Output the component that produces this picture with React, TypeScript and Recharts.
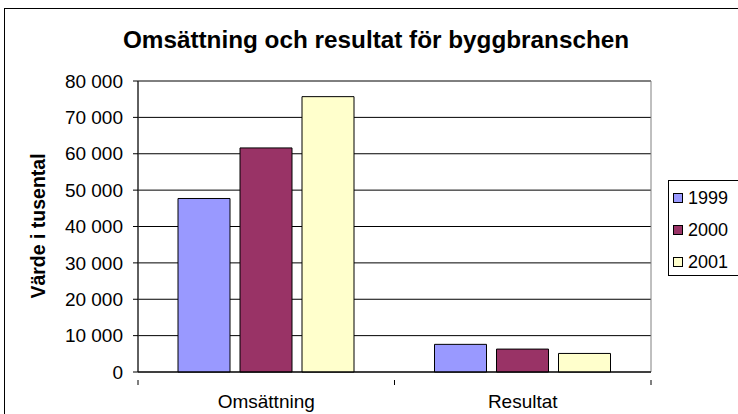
import { Bar, BarChart, CartesianGrid, ReferenceArea, XAxis, YAxis } from "recharts";

const categories = ["Omsättning", "Resultat"];
const years = ["1999", "2000", "2001"];
const values1999 = [47700, 7600];
const values2000 = [61600, 6300];
const values2001 = [75700, 5100];
const yTicks = [0, 10000, 20000, 30000, 40000, 50000, 60000, 70000, 80000];

const COLORS = ["#9999FF", "#993366", "#FFFFCC"];
const FONT = "Liberation Sans, Arial, sans-serif";

const W = 738;
const H = 414;
const MARGIN = { top: 81, right: 87, bottom: 0, left: 0 };
const Y_AXIS_W = 138;
const X_AXIS_H = 42;
const HALF_BAND = (W - MARGIN.right - Y_AXIS_W) / categories.length / 2;

const data = categories.map((name, i) => ({
  name,
  "1999": values1999[i],
  "2000": values2000[i],
  "2001": values2001[i],
}));

const formatThousands = (v: number) => v.toString().replace(/\B(?=(\d{3})+(?!\d))/g, " ");

function CategoryTick(props: any) {
  const { x, y, payload, index } = props;
  const last = index === categories.length - 1;
  return (
    <g>
      <line x1={x - HALF_BAND} x2={x - HALF_BAND} y1={y} y2={y + 5} stroke="#000" />
      {last && <line x1={x + HALF_BAND} x2={x + HALF_BAND} y1={y} y2={y + 5} stroke="#000" />}
      <text x={x} y={y + 28} textAnchor="middle" fontSize={19} fontFamily={FONT} fill="#000">
        {payload.value}
      </text>
    </g>
  );
}

function LegendBox() {
  return (
    <div
      style={{
        position: "absolute",
        left: 668,
        top: 180,
        width: 90,
        height: 96,
        boxSizing: "border-box",
        border: "1px solid #000",
        background: "#fff",
        padding: "1px 0 0 4px",
        fontFamily: FONT,
        fontSize: 18,
      }}
    >
      {years.map((year, i) => (
        <div key={year} style={{ display: "flex", alignItems: "center", height: 32 }}>
          <span
            style={{
              display: "inline-block",
              width: 8,
              height: 8,
              border: "1px solid #000",
              background: COLORS[i],
              marginRight: 5,
            }}
          />
          {year}
        </div>
      ))}
    </div>
  );
}

export default function App() {
  return (
    <div style={{ position: "absolute", left: 0, top: 0, width: W, height: H, overflow: "hidden", background: "#fff" }}>
      <div
        style={{
          position: "absolute",
          left: 4,
          top: 8,
          width: W + 20,
          height: H + 20,
          border: "1px solid #000",
          boxSizing: "border-box",
        }}
      />
      <div
        style={{
          position: "absolute",
          left: 0,
          top: 26,
          width: 752,
          textAlign: "center",
          fontFamily: FONT,
          fontWeight: "bold",
          fontSize: 24.3,
        }}
      >
        Omsättning och resultat för byggbranschen
      </div>
      <div style={{ position: "absolute", left: 0, top: 0 }}>
        <BarChart width={W} height={H} data={data} margin={MARGIN} barCategoryGap={40} barGap={10}>
          <CartesianGrid vertical={false} stroke="#000" strokeWidth={1} />
          <ReferenceArea y1={0} y2={80000} fill="none" stroke="#808080" strokeWidth={1} ifOverflow="visible" />
          <XAxis
            dataKey="name"
            height={X_AXIS_H}
            axisLine={{ stroke: "#000" }}
            tickLine={false}
            tick={<CategoryTick />}
            interval={0}
          />
          <YAxis
            width={Y_AXIS_W}
            domain={[0, 80000]}
            ticks={yTicks}
            interval={0}
            tickFormatter={formatThousands}
            axisLine={{ stroke: "#000" }}
            tickLine={{ stroke: "#000" }}
            tickSize={5}
            tickMargin={10}
            tick={{ fontSize: 19, fontFamily: FONT, fill: "#000" }}
          />
          {years.map((year, i) => (
            <Bar key={year} dataKey={year} fill={COLORS[i]} stroke="#000" strokeWidth={1} isAnimationActive={false} />
          ))}
        </BarChart>
      </div>
      <svg style={{ position: "absolute", left: 0, top: 0 }} width={W} height={H}>
        <text
          x={45}
          y={226}
          transform="rotate(-90 45 226)"
          textAnchor="middle"
          fontSize={19.5}
          fontWeight="bold"
          fontFamily={FONT}
          fill="#000"
        >
          Värde i tusental
        </text>
      </svg>
      <LegendBox />
    </div>
  );
}
